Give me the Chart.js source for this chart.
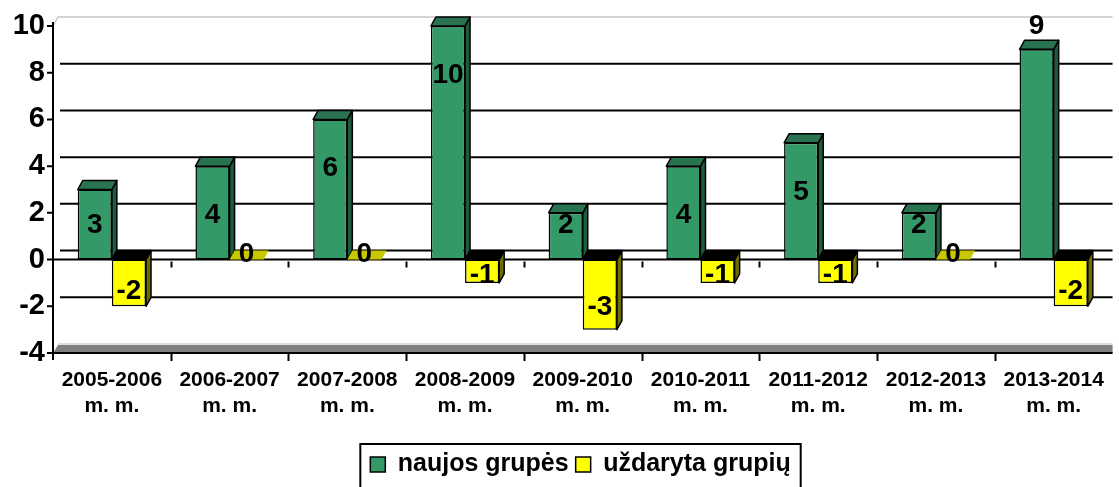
<!DOCTYPE html>
<html>
<head>
<meta charset="utf-8">
<script src="https://cdn.jsdelivr.net/npm/chart.js@4/dist/chart.umd.min.js"></script>
<style>
  html, body { margin: 0; padding: 0; background: #fff; }
  #wrap { width: 1119px; height: 487px; }
</style>
</head>
<body>
<div id="wrap"><canvas id="chart" width="1119" height="487"></canvas></div>
<script>
// Chart data
const categories = [
    ['2005-2006', 'm. m.'], ['2006-2007', 'm. m.'], ['2007-2008', 'm. m.'],
    ['2008-2009', 'm. m.'], ['2009-2010', 'm. m.'], ['2010-2011', 'm. m.'],
    ['2011-2012', 'm. m.'], ['2012-2013', 'm. m.'], ['2013-2014', 'm. m.']
];
const newGroups = [3, 4, 6, 10, 2, 4, 5, 2, 9];
const closedGroups = [-2, 0, 0, -1, -3, -1, -1, 0, -2];
// where the green value labels sit (Excel put the last one above the bar)
const newGroupsLabelPos = ['in', 'in', 'in', 'in', 'in', 'in', 'in', 'in', 'out'];
const yTicks = [-4, -2, 0, 2, 4, 6, 8, 10];

const FONT = '"Liberation Sans", Arial, sans-serif';
const GREEN = '#339966';
const YELLOW = '#ffff00';
const DX = 5, DY = -9;   // fake 3D depth
const LEGEND_SHIFT = 22; // legend sits a bit right of centre

// Back wall, gridlines and floor (drawn before the bars)
const wallPlugin = {
    id: 'wall',
    beforeDatasetsDraw(chart) {
        const { ctx, chartArea: a, scales: { y } } = chart;
        ctx.save();
        // wall outline
        ctx.strokeStyle = '#c8c8c8';
        ctx.lineWidth = 1.5;
        ctx.beginPath();
        ctx.moveTo(a.left, a.top);
        ctx.lineTo(a.left + DX, a.top + DY);
        ctx.lineTo(a.right, a.top + DY);
        ctx.stroke();
        // gridlines on the back wall
        ctx.strokeStyle = '#000';
        ctx.lineWidth = 2;
        yTicks.forEach(v => {
            if (v === 10 || v === -4) return;
            const py = y.getPixelForValue(v) + DY;
            ctx.beginPath();
            ctx.moveTo(a.left + DX + 2, py);
            ctx.lineTo(a.right, py);
            ctx.stroke();
        });
        // floor
        const fy = y.getPixelForValue(-4);
        ctx.fillStyle = '#808080';
        ctx.beginPath();
        ctx.moveTo(a.left, fy);
        ctx.lineTo(a.left + DX, fy + DY + 1);
        ctx.lineTo(a.right, fy + DY + 1);
        ctx.lineTo(a.right, fy);
        ctx.closePath();
        ctx.fill();
        ctx.strokeStyle = '#d0d0d0';
        ctx.lineWidth = 1.5;
        ctx.beginPath();
        ctx.moveTo(a.left + DX, fy + DY);
        ctx.lineTo(a.right, fy + DY);
        ctx.stroke();
        // zero line + floor line
        ctx.strokeStyle = '#000';
        ctx.lineWidth = 2;
        const zy = y.getPixelForValue(0);
        [zy, fy].forEach(py => {
            ctx.beginPath();
            ctx.moveTo(a.left, py);
            ctx.lineTo(a.right, py);
            ctx.stroke();
        });
        // category separators
        const step = (a.right - a.left) / categories.length;
        for (let i = 1; i < categories.length; i++) {
            const px = Math.round(a.left + step * i) + 0.5;
            ctx.beginPath();
            ctx.moveTo(px, zy + 2); ctx.lineTo(px, zy + 8);
            ctx.moveTo(px, fy); ctx.lineTo(px, fy + 8);
            ctx.stroke();
        }
        // y axis line and tick marks
        ctx.beginPath();
        ctx.moveTo(a.left, a.top - 4);
        ctx.lineTo(a.left, fy + 7);
        yTicks.forEach(v => {
            const py = y.getPixelForValue(v);
            ctx.moveTo(a.left - 6, py);
            ctx.lineTo(a.left, py);
        });
        ctx.stroke();
        ctx.restore();
    }
};

// Side and top faces of the bars, then the value labels
const barsPlugin = {
    id: 'bars3d',
    afterDatasetsDraw(chart) {
        const { ctx, scales: { y } } = chart;
        const zy = y.getPixelForValue(0);
        ctx.save();
        ctx.strokeStyle = '#000';
        ctx.lineWidth = 1.5;
        ctx.lineJoin = 'round';
        chart.data.datasets.forEach((ds, di) => {
            chart.getDatasetMeta(di).data.forEach((bar, i) => {
                const half = bar.width / 2;
                const l = bar.x - half, r = bar.x + half;
                const top = Math.min(bar.y, bar.base);
                const bot = Math.max(bar.y, bar.base);
                const v = ds.data[i];
                // right side
                if (bot - top > 0.5) {
                    ctx.fillStyle = di === 0 ? '#1d5c3d' : '#6e6e00';
                    ctx.beginPath();
                    ctx.moveTo(r, top);
                    ctx.lineTo(r + DX, top + DY);
                    ctx.lineTo(r + DX, bot + DY);
                    ctx.lineTo(r, bot);
                    ctx.closePath();
                    ctx.fill();
                    ctx.stroke();
                }
                // top face
                ctx.fillStyle = di === 0 ? '#2a7350' : (v === 0 ? '#c8c800' : '#000');
                ctx.beginPath();
                ctx.moveTo(l, top);
                ctx.lineTo(l + DX, top + DY);
                ctx.lineTo(r + DX, top + DY);
                ctx.lineTo(r, top);
                ctx.closePath();
                ctx.fill();
                if (v !== 0) ctx.stroke();
            });
        });

        // labels
        ctx.fillStyle = '#000';
        ctx.font = 'bold 28px ' + FONT;
        ctx.textAlign = 'center';
        ctx.textBaseline = 'middle';
        chart.getDatasetMeta(0).data.forEach((bar, i) => {
            let ly;
            if (newGroupsLabelPos[i] === 'out') ly = bar.y - 23;
            else ly = Math.min(bar.y + 49, zy - 34);
            ctx.fillText(String(newGroups[i]), bar.x, ly);
        });
        chart.getDatasetMeta(1).data.forEach((bar, i) => {
            const v = closedGroups[i];
            const h = Math.abs(bar.base - bar.y);
            const ly = v === 0 ? zy - 5 : zy + h * 0.68;
            ctx.fillText(String(v), bar.x, ly);
        });
        ctx.restore();
    }
};

// Nudge the legend right and put a black frame round it
const legendBoxPlugin = {
    id: 'legendBox',
    afterUpdate(chart) {
        const lg = chart.legend;
        if (!lg) return;
        lg.left += LEGEND_SHIFT;
        lg.right += LEGEND_SHIFT;
        lg.legendHitBoxes.forEach(b => { b.left += LEGEND_SHIFT; });
    },
    afterDraw(chart) {
        const lg = chart.legend;
        if (!lg || !lg.legendHitBoxes.length) return;
        const boxes = lg.legendHitBoxes;
        const left = boxes[0].left - 10;
        const right = boxes[boxes.length - 1].left + boxes[boxes.length - 1].width + 10;
        const { ctx } = chart;
        ctx.save();
        ctx.strokeStyle = '#000';
        ctx.lineWidth = 2;
        ctx.strokeRect(left, boxes[0].top - 8, right - left, 60);
        ctx.restore();
    }
};

new Chart(document.getElementById('chart'), {
    type: 'bar',
    data: {
        labels: categories,
        datasets: [{
            label: 'naujos grupės',
            data: newGroups,
            backgroundColor: GREEN,
            borderColor: '#000',
            borderWidth: 1.5,
            borderSkipped: false
        }, {
            label: 'uždaryta grupių',
            data: closedGroups,
            backgroundColor: YELLOW,
            borderColor: '#000',
            borderWidth: 1.5,
            borderSkipped: false
        }]
    },
    options: {
        responsive: false,
        animation: false,
        layout: { padding: { top: 26, right: 2, left: 0, bottom: 0 } },
        datasets: { bar: { categoryPercentage: 0.58, barPercentage: 1 } },
        plugins: {
            legend: {
                position: 'bottom',
                labels: {
                    color: '#000',
                    font: { family: FONT, size: 25, weight: 'bold' },
                    boxWidth: 15,
                    boxHeight: 15,
                    padding: 7,
                    useBorderRadius: false
                }
            },
            tooltip: { enabled: false }
        },
        scales: {
            x: {
                grid: { display: false, drawTicks: false },
                border: { display: false },
                afterFit(axis) { axis.height = 92; },
                ticks: {
                    color: '#000',
                    font: { family: FONT, size: 21, weight: 'bold', lineHeight: 1.2 },
                    padding: 15,
                    maxRotation: 0
                }
            },
            y: {
                min: -4,
                max: 10,
                afterBuildTicks(axis) { axis.ticks = yTicks.map(v => ({ value: v })); },
                afterFit(axis) { axis.width = 53; },
                grid: { display: false, drawTicks: false },
                border: { display: false },
                ticks: {
                    color: '#000',
                    font: { family: FONT, size: 29, weight: 'bold' },
                    padding: 8
                }
            }
        }
    },
    plugins: [wallPlugin, barsPlugin, legendBoxPlugin]
});
</script>
</body>
</html>
